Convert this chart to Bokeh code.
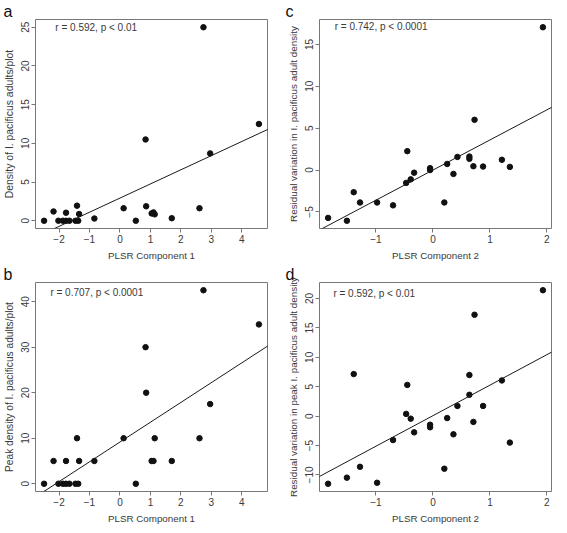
import numpy as np
from bokeh.plotting import figure
from bokeh.layouts import column, row
from bokeh.models import Range1d, Slope, FixedTicker
from bokeh.core.properties import value
from bokeh.embed import file_html
from bokeh.resources import INLINE

# ---- data ----
plsr1 = [-2.49, -2.18, -2.02, -1.87, -1.77, -1.77, -1.66, -1.46, -1.41, -1.37, -1.34, -0.84,
         0.12, 0.52, 0.84, 0.86, 1.04, 1.10, 1.14, 1.70, 2.61, 2.74, 2.96, 4.56]
density = [0, 1.2, 0, 0, 1.04, 0, 0, 0, 1.95, 0, 0.87, 0.29,
           1.62, 0, 10.5, 1.87, 0.95, 1.08, 0.83, 0.33, 1.62, 25, 8.7, 12.5]
peak_density = [0, 5, 0, 0, 5, 0, 0, 0, 10, 0, 5, 5,
                10, 0, 30, 20, 5, 5, 10, 5, 10, 42.5, 17.5, 35]

plsr2 = [-1.84, -1.51, -1.39, -1.28, -0.98, -0.70, -0.47, -0.45, -0.39, -0.33, -0.05, -0.05,
         0.20, 0.25, 0.36, 0.43, 0.64, 0.64, 0.73, 0.71, 0.88, 1.21, 1.35, 1.93]
resid_density = [-5.71, -6.05, -2.64, -3.87, -3.87, -4.21, -1.53, 2.26, -1.11, -0.31, 0.23, 0.0,
                 -3.87, 0.73, -0.46, 1.57, 1.61, 1.34, 6.0, 0.46, 0.42, 1.23, 0.38, 17.05]
resid_peak = [-11.5, -10.46, 7.15, -8.62, -11.33, -4.07, 0.38, 5.31, -0.43, -2.76, -1.46, -1.90,
              -8.94, -0.33, -3.09, 1.73, 3.63, 6.99, 17.24, -0.98, 1.73, 6.07, -4.50, 21.41]

panel_letters = ["a", "b", "c", "d"]
stat_texts = ["r = 0.592, p < 0.01", "r = 0.707, p < 0.0001",
              "r = 0.742, p < 0.0001", "r = 0.592, p < 0.01"]
stat_pos = [(-0.78, 25.0), (-0.76, 42.1), (-0.91, 17.1), (-1.03, 20.9)]
x_titles = ["PLSR Component 1", "PLSR Component 1", "PLSR Component 2", "PLSR Component 2"]
y_titles = ["Density of I. pacificus adults/plot",
            "Peak density of I. pacificus adults/plot",
            "Residual variation in I. pacificus adult density",
            "Residual variation in peak I. pacificus adult density"]
x_ticks = [[-2, -1, 0, 1, 2, 3, 4], [-2, -1, 0, 1, 2, 3, 4], [-1, 0, 1, 2], [-1, 0, 1, 2]]
y_ticks = [[0, 5, 10, 15, 20, 25], [0, 10, 20, 30, 40], [-5, 0, 5, 10, 15], [-10, -5, 0, 5, 10, 15, 20]]

FONT = "Liberation Sans"
TXT = "#3a3a3a"
BOX = "#777777"


def rlim(v):
    lo, hi = min(v), max(v)
    d = (hi - lo) * 0.04
    return lo - d, hi + d


def make_panel(i, xs, ys, fw, fh, left, right, bottom, ylab_size):
    x0, x1 = rlim(xs)
    y0, y1 = rlim(ys)
    p = figure(frame_width=fw, frame_height=fh, output_backend="svg", toolbar_location=None,
               x_range=Range1d(x0, x1), y_range=Range1d(y0, y1),
               min_border_left=left, min_border_right=right,
               min_border_top=0, min_border_bottom=bottom,
               background_fill_color="white", border_fill_color="white",
               title=panel_letters[i])
    p.title.align = "left"
    p.title.offset = -left + 1
    p.title.standoff = 0
    p.title.text_font = FONT
    p.title.text_font_size = "16px"
    p.title.text_font_style = "normal"
    p.title.text_color = "#111111"
    p.grid.visible = False
    p.outline_line_color = BOX
    p.outline_line_width = 1
    p.outline_line_alpha = 1
    for ax in (p.xaxis[0], p.yaxis[0]):
        ax.axis_line_color = None
        ax.major_tick_line_color = BOX
        ax.major_tick_out = 4
        ax.major_tick_in = 0
        ax.minor_tick_line_color = None
        ax.major_label_text_font = FONT
        ax.major_label_text_font_size = "10px"
        ax.major_label_text_color = TXT
        ax.axis_label_text_font = FONT
        ax.axis_label_text_font_style = "normal"
        ax.axis_label_text_color = TXT
    p.xaxis.axis_label_text_font_size = "9.8px"
    p.yaxis.axis_label_text_font_size = ylab_size
    p.xaxis.ticker = FixedTicker(ticks=x_ticks[i])
    p.yaxis.ticker = FixedTicker(ticks=y_ticks[i])
    p.xaxis.axis_label = x_titles[i]
    p.yaxis.axis_label = y_titles[i]
    p.yaxis.major_label_orientation = "vertical"
    p.xaxis.major_label_standoff = 2
    p.xaxis.axis_label_standoff = 4
    p.yaxis.major_label_standoff = 2
    p.yaxis.axis_label_standoff = 4

    slope, icpt = np.polyfit(np.array(xs), np.array(ys), 1)
    p.add_layout(Slope(gradient=float(slope), y_intercept=float(icpt),
                       line_color="#1a1a1a", line_width=1))
    p.scatter(xs, ys, size=5.5, color="#111111")

    tx, ty = stat_pos[i]
    p.text(x=[tx], y=[ty], text=[stat_texts[i]], text_font=value(FONT),
           text_font_size="10px", text_color=TXT, text_align="center",
           text_baseline="middle")
    return p


pa = make_panel(0, plsr1, density, 232, 209, 33, 17, 34, "10.4px")
pb = make_panel(1, plsr1, peak_density, 232, 209, 33, 17, 34, "10.2px")
pc = make_panel(2, plsr2, resid_density, 232, 209, 35, 2, 34, "9.85px")
pd = make_panel(3, plsr2, resid_peak, 232, 209, 35, 2, 34, "9.85px")

layout = column(row(pa, pc), row(pb, pd))
open("out.html", "w").write(file_html(layout, INLINE))
